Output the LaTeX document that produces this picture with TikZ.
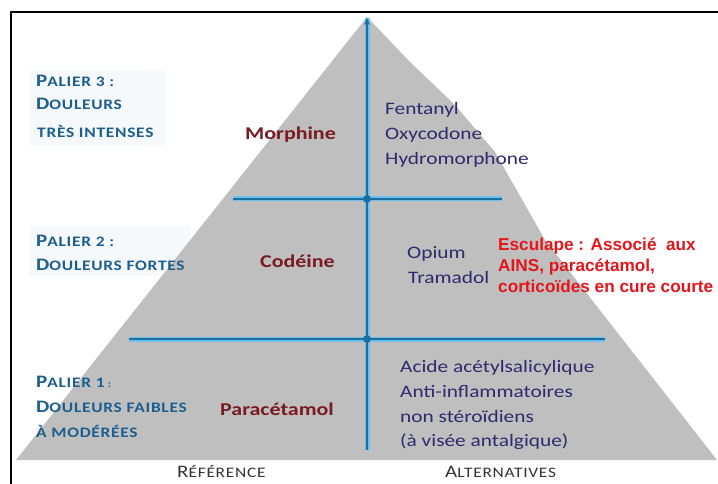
\documentclass[tikz,border=0pt]{standalone}
\usepackage{fontspec}
\setmainfont{Carlito}[FakeStretch=1.22]
\newfontfamily\lblfont{Carlito}[FakeStretch=1.2,LetterSpace=5]
\newfontfamily\redfont{Liberation Sans}
\usetikzlibrary{arrows.meta}
\definecolor{trigray}{HTML}{BFBFBF}
\definecolor{lblblue}{HTML}{1C5E8E}
\definecolor{drugred}{HTML}{7A1B22}
\definecolor{navy}{HTML}{2D2A6E}
\definecolor{linecore}{HTML}{1A6FA0}
\definecolor{linehalo}{HTML}{6BC0EC}
\definecolor{alertred}{HTML}{E3161C}
\definecolor{lblbg}{HTML}{F5F9FB}
\newcommand{\fsc}[2]{{\fontsize{17.5}{18}\selectfont #1}{\fontsize{14.5}{15}\selectfont #2}}
\newcommand{\ssc}[1]{{\fontsize{14.5}{15}\selectfont #1}}
\tikzset{
  lbl/.style={anchor=base west, inner sep=0pt, text=lblblue, font=\lblfont\bfseries},
  refdrug/.style={anchor=base west, inner sep=0pt, text=drugred, font=\bfseries\fontsize{18}{20}\selectfont},
  altdrug/.style={anchor=base west, inner sep=0pt, text=navy, font=\fontsize{17.5}{20}\selectfont},
  alert/.style={anchor=base west, inner sep=0pt, text=alertred, font=\redfont\bfseries\fontsize{17.2}{20}\selectfont},
  axislbl/.style={anchor=base west, inner sep=0pt, text=black!80, font=\lblfont},
  halo/.style={line width=5pt, draw=linehalo},
  core/.style={line width=2.6pt, draw=linecore},
  jdot/.style={circle, fill=linecore, inner sep=0pt, minimum size=8pt}
}
\begin{document}
\begin{tikzpicture}[x=1pt,y=-1pt]
\useasboundingbox (0,0) rectangle (718,484);
\fill[white] (0,0) rectangle (718,484);
% frame
\draw[black, line width=1.5pt] (11,484) -- (11,12) -- (718,12);
% faint label backgrounds
\fill[lblbg] (30,70) rectangle (165,146);
\fill[lblbg] (30,226) rectangle (190,276);
% pyramid
\fill[trigray] (367,17) -- (410,62) -- (455,105) -- (495,152) -- (545,240) -- (717,460) -- (16,460) -- cycle;
% coordinates
\coordinate (top) at (367,18);
\coordinate (bot) at (367,450);
\coordinate (h1l) at (233,199);
\coordinate (h1r) at (502,199);
\coordinate (h2l) at (129,339);
\coordinate (h2r) at (605,339);
% lines
\draw[halo] (h1l) -- (h1r);
\draw[halo] (h2l) -- (h2r);
\draw[halo] (bot) -- (top);
\draw[core] (h1l) -- (h1r);
\draw[core] (h2l) -- (h2r);
\draw[core, -{Stealth[length=7pt,width=6pt]}] (bot) -- (top);
\node[jdot] (j1) at (367,199) {};
\node[jdot] (j2) at (367,339) {};
% left labels
\node[lbl] (p3a) at (36,87) {\fsc{P}{ALIER 3 :}};
\node[lbl] (p3b) at (36,110) {\fsc{D}{OULEURS}};
\node[lbl] (p3c) at (37,138) {\ssc{TRÈS INTENSES}};
\node[lbl] (p2a) at (36,246) {\fsc{P}{ALIER 2 :}};
\node[lbl] (p2b) at (36,270) {\fsc{D}{OULEURS FORTES}};
\node[lbl] (p1a) at (36,387) {\fsc{P}{ALIER 1} :};
\node[lbl] (p1b) at (36,412) {\fsc{D}{OULEURS FAIBLES}};
\node[lbl] (p1c) at (36,437) {\ssc{À MODÉRÉES}};
% reference drugs
\node[refdrug] (morph) at (245,140) {Morphine};
\node[refdrug] (codeine) at (260,267) {Codéine};
\node[refdrug] (parac) at (220,415) {Paracétamol};
% alternatives
\node[altdrug] (fent) at (385,115) {Fentanyl};
\node[altdrug] (oxy) at (385,140) {Oxycodone};
\node[altdrug] (hydro) at (385,165) {Hydromorphone};
\node[altdrug] (opium) at (407,258) {Opium};
\node[altdrug] (trama) at (408,283) {Tramadol};
\node[altdrug] (acide) at (400,372) {Acide acétylsalicylique};
\node[altdrug] (ains) at (400,397) {Anti-inflammatoires};
\node[altdrug] (nonst) at (400,422) {non stéroïdiens};
\node[altdrug] (visee) at (400,446) {(à visée antalgique)};
% red note
\node[alert] (esc1) at (498,250) {Esculape : Associé\ \ aux};
\node[alert] (esc2) at (498,271) {AINS, paracétamol,};
\node[alert] (esc3) at (498,292) {corticoïdes en cure courte};
% axis labels
\node[axislbl] (ref) at (177,477) {\fsc{R}{ÉFÉRENCE}};
\node[axislbl] (alt) at (445,477) {\fsc{A}{LTERNATIVES}};
\end{tikzpicture}
\end{document}
